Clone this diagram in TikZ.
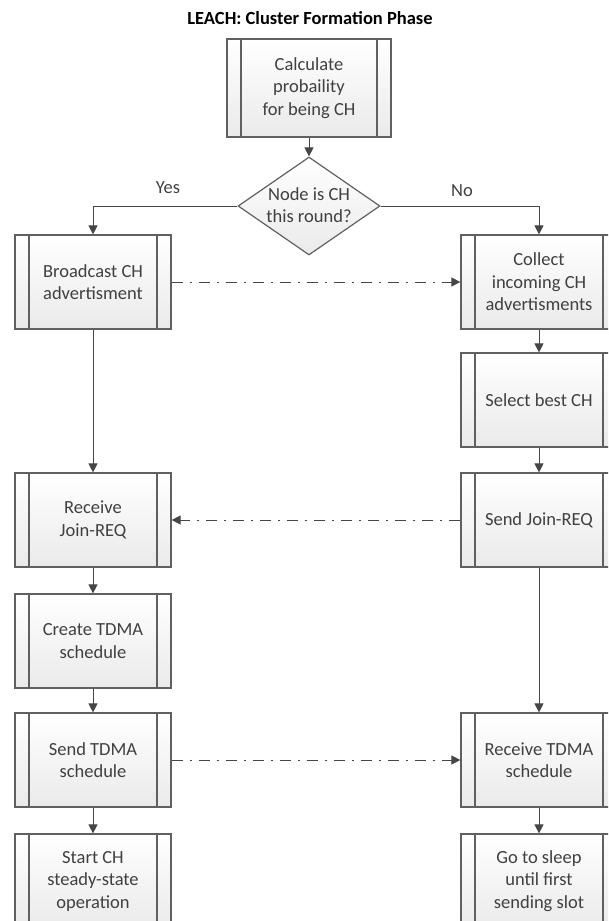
\documentclass[tikz,border=0pt]{standalone}
\usepackage{fontspec}
\setmainfont{Carlito}
\usetikzlibrary{shapes.geometric,arrows.meta}
\definecolor{txtc}{RGB}{64,64,64}
\definecolor{edgec}{RGB}{96,96,96}
\definecolor{linec}{RGB}{70,70,70}
\definecolor{fillbot}{RGB}{234,234,234}
\tikzset{
  procbox/.style={draw=edgec, line width=1.2pt, top color=white, bottom color=fillbot,
    minimum width=156pt, minimum height=94pt, inner sep=0pt, align=center,
    text=txtc, font=\fontsize{18.5}{22.5}\selectfont,
    path picture={
      \draw[edgec, line width=1.2pt] ([xshift=14pt]path picture bounding box.north west) -- ([xshift=14pt]path picture bounding box.south west);
      \draw[edgec, line width=1.2pt] ([xshift=-14pt]path picture bounding box.north east) -- ([xshift=-14pt]path picture bounding box.south east);
    }},
  decision/.style={draw=edgec, line width=1.2pt, shape=diamond, top color=white, bottom color=fillbot,
    minimum width=142pt, minimum height=98pt, inner sep=0pt},
  lbl/.style={text=txtc, font=\fontsize{18.5}{22.5}\selectfont, align=center, inner sep=0pt},
  arr/.style={draw=linec, line width=1pt, -{Triangle[length=9pt,width=9pt]}},
  dasharr/.style={arr, dash pattern=on 11pt off 7pt on 2pt off 7pt},
}
\begin{document}
\begin{tikzpicture}[x=1pt,y=-1pt]
\useasboundingbox (0,0) rectangle (608,921);
\clip (0,0) rectangle (608,921);
\node[lbl, font=\fontsize{18.5}{22.5}\selectfont\bfseries, text=black] (title) at (310,18) {LEACH: Cluster Formation Phase};
\node[procbox, minimum width=164pt, minimum height=98pt] (top) at (309,88) {Calculate\\probaility\\for being CH};
\node[decision] (dec) at (309,206) {};
\node[lbl] (dect) at (309,205) {Node is CH\\this round?};
\node[lbl] (yes) at (168,188) {Yes};
\node[lbl] (no) at (462,191) {No};
% left column
\node[procbox] (b1) at (93,282) {Broadcast CH\\advertisment};
\node[procbox] (r1) at (93,520) {Receive\\Join-REQ};
\node[procbox] (ct) at (93,641) {Create TDMA\\schedule};
\node[procbox] (st) at (93,760) {Send TDMA\\schedule};
\node[procbox] (sc) at (93,881) {Start CH\\steady-state\\operation};
% right column
\node[procbox] (c1) at (539,282) {Collect\\incoming CH\\advertisments};
\node[procbox] (sel) at (539,400) {Select best CH};
\node[procbox] (sj) at (539,520) {Send Join-REQ};
\node[procbox] (rt) at (539,760) {Receive TDMA\\schedule};
\node[procbox] (gs) at (539,881) {Go to sleep\\until first\\sending slot};
% connectors
\draw[arr] (top) -- (dec);
\draw[arr] (dec.west) -| (b1.north);
\draw[arr] (dec.east) -| (c1.north);
\draw[arr] (b1) -- (r1);
\draw[arr] (r1) -- (ct);
\draw[arr] (ct) -- (st);
\draw[arr] (st) -- (sc);
\draw[arr] (c1) -- (sel);
\draw[arr] (sel) -- (sj);
\draw[arr] (sj) -- (rt);
\draw[arr] (rt) -- (gs);
\draw[dasharr] (b1.east) -- (c1.west);
\draw[dasharr] (sj.west) -- (r1.east);
\draw[dasharr] (st.east) -- (rt.west);
\end{tikzpicture}
\end{document}
